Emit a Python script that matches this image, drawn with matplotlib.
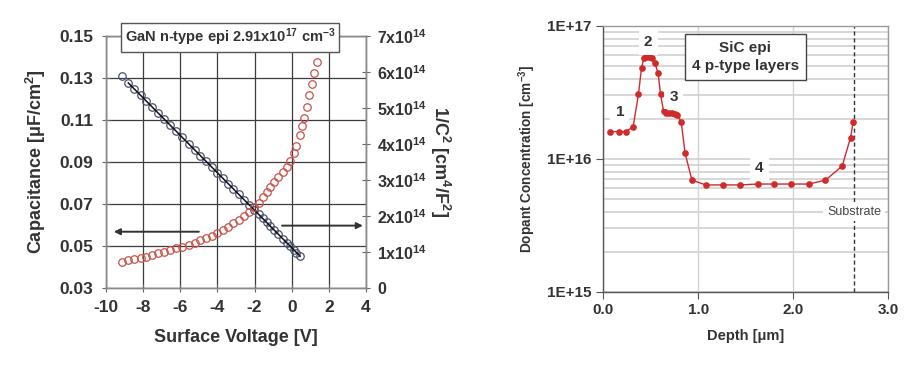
import numpy as np
import matplotlib
matplotlib.use("Agg")
import matplotlib.pyplot as plt

plt.rcParams['font.family'] = ['Liberation Sans', 'DejaVu Sans']
plt.rcParams['mathtext.fontset'] = 'custom'
plt.rcParams['mathtext.rm'] = 'Liberation Sans:bold'
plt.rcParams['mathtext.it'] = 'Liberation Sans:bold'
plt.rcParams['mathtext.bf'] = 'Liberation Sans:bold'

TXT = '#333333'

# ---- left panel: C-V of GaN epi ----
volts = [-9.15, -8.80, -8.48, -8.13, -7.83, -7.51, -7.18, -6.88, -6.55, -6.23,
         -5.90, -5.55, -5.23, -4.92, -4.62, -4.31, -4.01, -3.72, -3.41, -3.14,
         -2.85, -2.57, -2.28, -2.03, -1.78, -1.56, -1.35, -1.17, -0.95, -0.72,
         -0.47, -0.27, -0.08, 0.11, 0.25, 0.45, 0.54, 0.68, 0.81, 0.95,
         1.07, 1.18, 1.345]
# capacitance [uF/cm2], measured up to ~0.45 V
cap = [0.1308, 0.1276, 0.1248, 0.1217, 0.1190, 0.1161, 0.1132, 0.1105, 0.1076, 0.1047,
       0.1018, 0.0987, 0.0958, 0.0930, 0.0904, 0.0876, 0.0849, 0.0823, 0.0796, 0.0772,
       0.0746, 0.0721, 0.0695, 0.0673, 0.0650, 0.0631, 0.0612, 0.0596, 0.0576, 0.0556,
       0.0533, 0.0516, 0.0499, 0.0482, 0.0469, 0.0451]
# 1/C^2 [x1e14 cm4/F2]
inv_c2 = [0.73, 0.78, 0.81, 0.84, 0.87, 0.92, 0.96, 1.01, 1.06, 1.10,
          1.13, 1.19, 1.26, 1.33, 1.38, 1.45, 1.54, 1.61, 1.70, 1.80,
          1.89, 2.00, 2.12, 2.24, 2.37, 2.52, 2.66, 2.81, 2.95, 3.09,
          3.22, 3.37, 3.54, 3.74, 3.94, 4.25, 4.50, 4.73, 5.04, 5.36,
          5.66, 5.96, 6.29]

cap_ticks = [0.03, 0.05, 0.07, 0.09, 0.11, 0.13, 0.15]
inv_ticks = [0, 1, 2, 3, 4, 5, 6, 7]
v_ticks = [-10, -8, -6, -4, -2, 0, 2, 4]
arrow_left = [(-4.85, 0.0568), (-9.73, 0.0568)]
arrow_right = [(-0.67, 0.0597), (3.98, 0.0597)]

# ---- right panel: SiC doping profile ----
depth = [0.07, 0.17, 0.24, 0.316, 0.372, 0.404, 0.43, 0.456, 0.484, 0.513,
         0.544, 0.579, 0.604, 0.636, 0.667, 0.695, 0.72, 0.752, 0.779, 0.821,
         0.863, 0.934, 1.081, 1.257, 1.44, 1.625, 1.80, 1.98, 2.165, 2.34,
         2.516, 2.604, 2.632]
conc = [1.6e16, 1.6e16, 1.6e16, 1.74e16, 3.05e16, 4.83e16, 5.75e16, 5.8e16, 5.8e16, 5.75e16,
        5.27e16, 4.38e16, 3.05e16, 2.29e16, 2.2e16, 2.2e16, 2.2e16, 2.17e16, 2.15e16, 1.9e16,
        1.1e16, 6.9e15, 6.35e15, 6.35e15, 6.35e15, 6.45e15, 6.45e15, 6.45e15, 6.45e15, 6.9e15,
        8.8e15, 1.44e16, 1.89e16]
layer_labels = ['1', '2', '3', '4']
layer_pos = [(0.175, 2.26e16), (0.474, 7.5e16), (0.744, 2.92e16), (1.642, 8.47e15)]
substrate_x = 2.64

fig = plt.figure(figsize=(9.18, 3.73), dpi=100)

# ================= left =================
ax = fig.add_axes([0.1155, 0.2279, 0.2832, 0.6756])
ax2 = ax.twinx()

ax.set_xlim(-10, 4)
ax.set_ylim(0.03, 0.15)
ax2.set_ylim(0, 7)
ax.set_xticks(v_ticks)
ax.set_yticks(cap_ticks)
ax2.set_yticks(inv_ticks)
ax.set_xticklabels([str(v) for v in v_ticks])
ax.set_yticklabels(['%.2f' % c for c in cap_ticks])
ax2.set_yticklabels(['0'] + ['%dx10$^{14}$' % t for t in inv_ticks[1:]])

ax.grid(True, color='#3c3c3c', lw=0.9)
ax.set_axisbelow(True)
for a in (ax, ax2):
    for s in a.spines.values():
        s.set_color('#8a8a8a')
        s.set_linewidth(1.0)
ax.tick_params(axis='both', direction='inout', length=6, color='#666666',
               labelsize=12.5, labelcolor=TXT, pad=6)
ax2.tick_params(axis='y', direction='inout', length=6, color='#666666',
                labelsize=11.5, labelcolor=TXT, pad=5)
for lab in ax.get_xticklabels() + ax.get_yticklabels() + ax2.get_yticklabels():
    lab.set_fontweight('bold')

nc = len(cap)
ax.plot(volts[:nc], cap, 'o', ms=5.4, mfc='none', mec='#4b5272', mew=0.9, zorder=3)
fit = np.polyfit(volts[:nc], cap, 1)
fx = np.array([volts[1], volts[nc - 1]])
ax.plot(fx, np.polyval(fit, fx), '-', color='#111111', lw=1.1, zorder=4)
ax2.plot(volts, inv_c2, 'o', ms=5.4, mfc='none', mec='#c8524a', mew=0.9, zorder=3)

ax.annotate('', xy=arrow_left[1], xytext=arrow_left[0],
            arrowprops=dict(arrowstyle='-|>', color='#333333', lw=1.4, mutation_scale=9))
ax.annotate('', xy=arrow_right[1], xytext=arrow_right[0],
            arrowprops=dict(arrowstyle='-|>', color='#333333', lw=1.4, mutation_scale=9))

ax.set_xlabel('Surface Voltage [V]', fontsize=13, fontweight='bold', color=TXT, labelpad=10)
ax.set_ylabel('Capacitance [\u03bcF/cm$^2$]', fontsize=13, fontweight='bold', color=TXT, labelpad=8)
ax2.set_ylabel('1/C$^2$ [cm$^4$/F$^2$]', fontsize=13, fontweight='bold', color=TXT,
               rotation=270, labelpad=18)

ax2.text(0.477, 0.994, 'GaN n-type epi 2.91x10$^{17}$ cm$^{-3}$', transform=ax2.transAxes,
         ha='center', va='center', fontsize=10.5, fontweight='bold', color=TXT, zorder=10,
         bbox=dict(boxstyle='square,pad=0.25', fc='white', ec='#555555', lw=1.0))

# ================= right =================
bx = fig.add_axes([0.657, 0.218, 0.3105, 0.713])
bx.set_yscale('log')
bx.set_xlim(0, 3.0)
bx.set_ylim(1e15, 1e17)
bx.set_xticks([0, 1, 2, 3])
bx.set_xticklabels(['0.0', '1.0', '2.0', '3.0'])
bx.set_yticks([1e15, 1e16, 1e17])
bx.set_yticklabels(['1E+15', '1E+16', '1E+17'])
bx.yaxis.grid(True, which='both', color='#d4d4d4', lw=1.3)
bx.xaxis.grid(True, color='#d4d4d4', lw=1.0)
bx.set_axisbelow(True)
bx.tick_params(axis='y', which='minor', length=0)
bx.tick_params(axis='both', which='major', direction='out', length=5, color='#555555',
               labelsize=11, labelcolor=TXT)
for lab in bx.get_xticklabels() + bx.get_yticklabels():
    lab.set_fontweight('bold')
for name, s in bx.spines.items():
    s.set_color('#9a9a9a' if name in ('top', 'right') else '#555555')
    s.set_linewidth(1.0)

bx.axvline(substrate_x, color='#333333', lw=1.0, ls=(0, (3, 2)), zorder=2)
bx.text(substrate_x, 4.0e15, 'Substrate', ha='center', va='center', fontsize=9,
        color='#444444', zorder=5,
        bbox=dict(boxstyle='square,pad=0.3', fc='white', ec='none'))

bx.plot(depth, conc, '-', color='#d02a2a', lw=1.0, marker='o', ms=3.8,
        mfc='#d02a2a', mec='#d02a2a', zorder=4)

for lab, (x, y) in zip(layer_labels, layer_pos):
    bx.text(x, y, lab, ha='center', va='center', fontsize=11, fontweight='bold',
            color=TXT, zorder=5,
            bbox=dict(boxstyle='square,pad=0.35', fc='white', ec='none'))

bx.text(1.497, 5.8e16, 'SiC epi\n4 p-type layers', ha='center', va='center',
        fontsize=11, fontweight='bold', color=TXT, linespacing=1.35, zorder=6,
        bbox=dict(boxstyle='square,pad=0.45', fc='white', ec='#444444', lw=1.0))

bx.set_xlabel('Depth [\u03bcm]', fontsize=10.5, fontweight='bold', color=TXT, labelpad=8)
bx.set_ylabel('Dopant Concentration [cm$^{-3}$]', fontsize=9.8, fontweight='bold',
              color=TXT, labelpad=6)

fig.savefig('out.png', dpi=100, facecolor='white')
